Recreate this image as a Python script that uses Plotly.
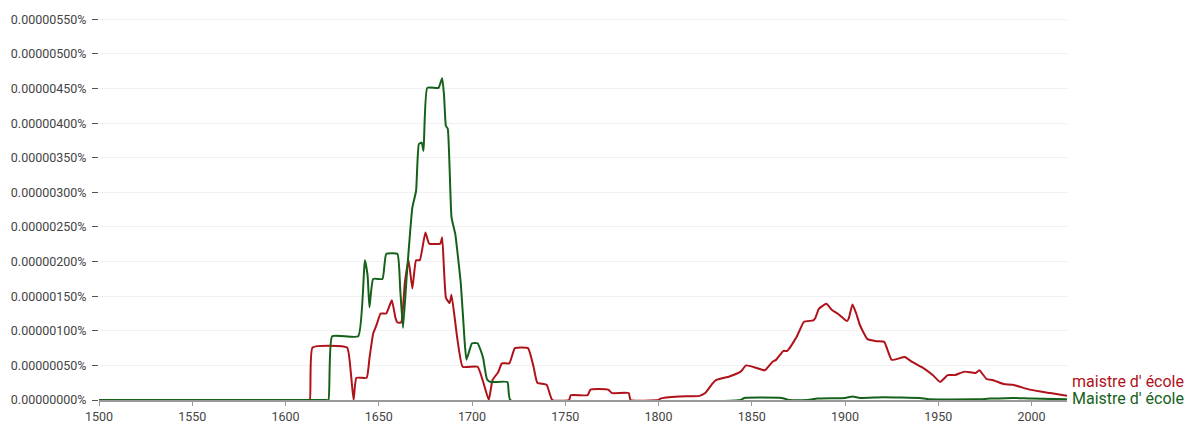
import plotly.graph_objects as go

# Values in units of 1e-8 percent
red_years = [1500, 1611, 1613, 1614.5, 1633, 1635, 1636.5, 1638, 1643.5, 1645, 1647, 1649, 1651, 1654, 1657, 1659, 1660, 1662,
             1664, 1666, 1668, 1670, 1672, 1675, 1677, 1683, 1684, 1686, 1688, 1689, 1692, 1695, 1703, 1706, 1709,
             1711, 1714, 1716, 1720, 1723, 1730, 1733, 1735, 1740, 1743, 1752, 1753, 1762, 1763.5, 1773, 1775, 1784,
             1785, 1800, 1801, 1811, 1822, 1825, 1829, 1831, 1838, 1844, 1847, 1853, 1857, 1861, 1863, 1867, 1869,
             1874, 1878, 1883, 1884, 1886, 1890, 1893, 1896, 1901, 1902, 1904, 1906, 1908, 1912, 1917, 1921, 1925,
             1932, 1936, 1942, 1947, 1951, 1955, 1959, 1964, 1970, 1972, 1976, 1979, 1985, 1990, 1999, 2010, 2019]
red_vals = [0, 0, 0, 76, 76, 40, 0, 32, 32, 60, 96, 110, 125, 125, 144, 118, 112, 112,
            170, 202, 161, 202, 202, 242, 226, 226, 235, 148, 140, 152, 91, 48, 48, 26, 0,
            29, 40, 53, 53, 75, 75, 48, 25, 22, 0, 0, 7, 7, 15, 15, 10, 10,
            0, 0, 2, 5, 6, 10, 24, 29, 34, 41, 50, 46, 43, 55, 58, 71, 71,
            91, 113, 115, 118, 132, 139, 130, 125, 114, 118, 138, 125, 108, 88, 85, 84, 58,
            62, 55, 46, 36, 26, 36, 36, 41, 39, 43, 30, 29, 23, 22, 15, 10, 6]

green_years = [1500, 1621, 1623, 1625, 1639, 1642.5, 1644, 1645, 1647, 1652, 1654, 1660, 1661.5, 1663, 1665, 1668, 1670,
               1671.5, 1673, 1674, 1676, 1682, 1684, 1685, 1686, 1687, 1689, 1691, 1694, 1696, 1697, 1699, 1700,
               1703, 1705, 1706, 1708, 1710, 1719, 1720.5, 1844, 1846, 1866, 1870, 1880, 1885, 1900, 1904, 1908,
               1920, 1940, 1945, 1970, 1978, 1990, 2000, 2019]
green_vals = [0, 0, 0, 92, 92, 202, 180, 134, 175, 175, 211, 211, 160, 104, 180, 278, 302,
              370, 372, 360, 451, 451, 465, 440, 396, 392, 264, 240, 168, 86, 58, 75, 82,
              82, 69, 60, 30, 26, 26, 0, 0, 3, 3, 0, 0, 2, 3, 5, 3,
              4, 3, 1, 1, 2, 3, 2, 1]

tick_vals = [0, 50, 100, 150, 200, 250, 300, 350, 400, 450, 500, 550]
tick_text = ["0.00000000%", "0.00000050%", "0.00000100%", "0.00000150%", "0.00000200%", "0.00000250%",
             "0.00000300%", "0.00000350%", "0.00000400%", "0.00000450%", "0.00000500%", "0.00000550%"]
x_ticks = [1500, 1550, 1600, 1650, 1700, 1750, 1800, 1850, 1900, 1950, 2000]

RED = "#b0121a"
GREEN = "#15611a"

fig = go.Figure()
fig.add_trace(go.Scatter(x=red_years, y=red_vals, mode="lines", name="maistre d' école",
                         line=dict(color=RED, width=2, shape="spline", smoothing=0.4)))
fig.add_trace(go.Scatter(x=green_years, y=green_vals, mode="lines", name="Maistre d' école",
                         line=dict(color=GREEN, width=2, shape="spline", smoothing=0.4)))

fig.add_annotation(x=1, xref="paper", xanchor="left", xshift=3, y=red_vals[-1], yref="y", yshift=14,
                   text="maistre d' école", showarrow=False, font=dict(color=RED, size=16, family="Roboto"))
fig.add_annotation(x=1, xref="paper", xanchor="left", xshift=3, y=green_vals[-1], yref="y", yshift=1,
                   text="Maistre d' école", showarrow=False, font=dict(color=GREEN, size=16, family="Roboto"))

fig.update_layout(
    width=1192, height=423,
    margin=dict(l=99, r=125, t=18, b=23, autoexpand=False),
    paper_bgcolor="white", plot_bgcolor="white",
    showlegend=False,
    font=dict(family="Roboto", size=12, color="#444"),
    xaxis=dict(range=[1500, 2019], tickvals=x_ticks, ticks="outside", ticklen=4, tickcolor="#999",
               showgrid=False, showline=True, linecolor="#999", linewidth=2, zeroline=False,
               tickfont=dict(size=12.5, color="#444"), ticklabelstandoff=0),
    yaxis=dict(range=[0, 552], tickvals=tick_vals, ticktext=tick_text, ticks="outside", ticklen=6,
               tickcolor="#555", showgrid=True, gridcolor="#f0f0f0", gridwidth=1, showline=False,
               zeroline=False, tickfont=dict(size=12.5, color="#444"), ticklabelstandoff=3),
)

fig.write_html("out.html", config={"displayModeBar": False},
               post_script="document.body.style.margin='0';document.body.style.overflow='hidden';")
